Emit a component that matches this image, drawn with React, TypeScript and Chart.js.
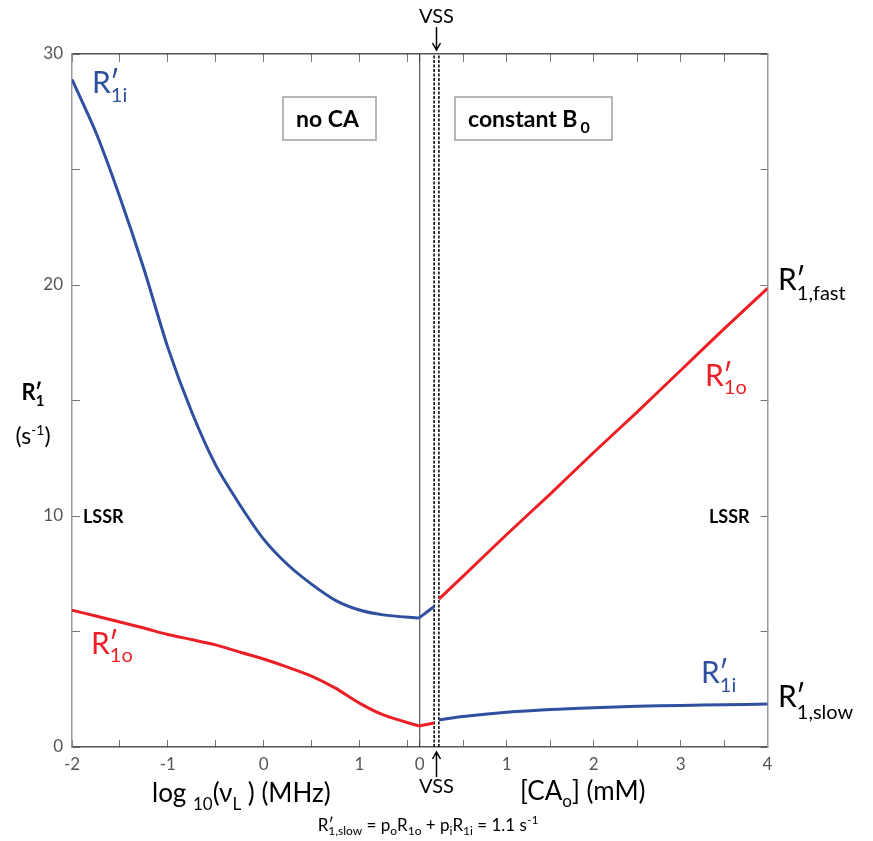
import { useEffect, useRef } from 'react';
import { Chart, registerables } from 'chart.js';

Chart.register(...registerables);

const FONT = 'Lato, "DejaVu Sans", sans-serif';
const BLUE = '#2f4f9f';
const RED = '#ec1f26';

// ---- data ----
// left panel: x = log10(nu_L) (MHz), no contrast agent
const logNu = [-2, -1.75, -1.5, -1.25, -1, -0.75, -0.5, -0.25, 0, 0.25, 0.5, 0.75, 1, 1.25, 1.62];
const r1iNoCA = [28.9, 26.6, 23.8, 20.7, 17.3, 14.5, 12.2, 10.5, 9.0, 7.9, 7.05, 6.35, 5.93, 5.72, 5.58];
const r1oNoCA = [5.92, 5.67, 5.41, 5.15, 4.87, 4.65, 4.42, 4.11, 3.81, 3.46, 3.07, 2.55, 1.9, 1.39, 0.91];
const vssLog = 1.78;
const r1iAtVSS = 6.08;
const r1oAtVSS = 1.04;
// right panel: x = [CAo] (mM), constant B0
const caO = [0.22, 0.5, 1, 1.5, 2, 2.5, 3, 3.5, 4];
const r1oCA = [6.4, 7.4, 9.2, 10.95, 12.75, 14.5, 16.3, 18.1, 19.85];
const r1iCA = [1.17, 1.32, 1.5, 1.62, 1.7, 1.76, 1.8, 1.83, 1.86];
const vssCA = 0.22;
const panelEdgeCA = 0;
// ticks
const logTicks = [-2, -1.5, -1, -0.5, 0, 0.5, 1, 1.5];
const logLabels = ['-2', '', '-1', '', '0', '', '1', ''];
const caTicks = [0, 0.5, 1, 1.5, 2, 2.5, 3, 3.5, 4];
const caLabels = ['0', '', '1', '', '2', '', '3', '', '4'];
const yTicks = [0, 5, 10, 15, 20, 25, 30];
const yLabels = ['0', '', '10', '', '20', '', '30'];

const pts = (xs: number[], ys: number[]) => xs.map((x, i) => ({ x, y: ys[i] }));

type Run = { t: string; size: number; bold?: boolean; dy?: number; dx?: number; adv?: boolean };

function rich(ctx: CanvasRenderingContext2D, x: number, y: number, runs: Run[], color: string, align: 'left' | 'center' | 'right' = 'left') {
  ctx.save();
  ctx.fillStyle = color;
  ctx.textBaseline = 'alphabetic';
  ctx.textAlign = 'left';
  const f = (r: Run) => `${r.bold ? 'bold ' : ''}${r.size}px ${FONT}`;
  const widths = runs.map((r) => {
    ctx.font = f(r);
    return ctx.measureText(r.t).width;
  });
  const total = runs.reduce((s, r, i) => s + (r.adv === false ? 0 : widths[i] + (r.dx || 0)), 0);
  let cx = align === 'center' ? x - total / 2 : align === 'right' ? x - total : x;
  runs.forEach((r, i) => {
    ctx.font = f(r);
    ctx.fillText(r.t, cx + (r.dx || 0), y + (r.dy || 0));
    if (r.adv !== false) cx += widths[i] + (r.dx || 0);
  });
  ctx.restore();
}

const rPrime = (size: number, sub: string, subSize: number, subDy: number, bold = false): Run[] => [
  { t: 'R', size, bold },
  { t: '\u2032', size, bold, adv: false, dx: -1 },
  { t: sub, size: subSize, bold, dy: subDy },
];

function arrow(ctx: CanvasRenderingContext2D, x: number, y0: number, y1: number) {
  const dir = y1 > y0 ? 1 : -1;
  ctx.save();
  ctx.strokeStyle = '#000';
  ctx.lineWidth = 1.5;
  ctx.beginPath();
  ctx.moveTo(x, y0);
  ctx.lineTo(x, y1);
  ctx.moveTo(x - 4, y1 - dir * 7);
  ctx.lineTo(x, y1);
  ctx.lineTo(x + 4, y1 - dir * 7);
  ctx.stroke();
  ctx.restore();
}

function box(ctx: CanvasRenderingContext2D, x0: number, y0: number, x1: number, y1: number) {
  ctx.save();
  ctx.strokeStyle = '#a0a0a0';
  ctx.lineWidth = 1.5;
  ctx.strokeRect(x0, y0, x1 - x0, y1 - y0);
  ctx.restore();
}

const annotations = {
  id: 'annotations',
  afterDraw(chart: any) {
    const { ctx, scales } = chart;
    const xl = scales.x;
    const xr = scales.xr;
    const yS = scales.y;
    const xm = (xl.getPixelForValue(vssLog) + xr.getPixelForValue(vssCA)) / 2;

    // VSS markers
    rich(ctx, xm, 23, [{ t: 'VSS', size: 20 }], '#000', 'center');
    arrow(ctx, xm, 27, 50);
    arrow(ctx, xm, 777, 752);
    rich(ctx, xm, 793, [{ t: 'VSS', size: 20 }], '#000', 'center');

    // boxes
    box(ctx, 283, 97, 376, 140);
    rich(ctx, 296, 127, [{ t: 'no CA', size: 23, bold: true }], '#000');
    box(ctx, 455, 97, 612, 140);
    rich(ctx, 468, 127, [{ t: 'constant B', size: 23, bold: true }, { t: '0', size: 16, bold: true, dy: 6, dx: 3 }], '#000');

    // LSSR
    const y10 = yS.getPixelForValue(10) + 7;
    rich(ctx, 83, y10, [{ t: 'LSSR', size: 18, bold: true }], '#000');
    rich(ctx, 709, y10, [{ t: 'LSSR', size: 18, bold: true }], '#000');

    // y title
    rich(ctx, 33, 400, rPrime(22, '1', 15, 6, true), '#000', 'center');
    rich(ctx, 33, 444, [{ t: '(s', size: 23 }, { t: '-1', size: 14, dy: -9 }, { t: ')', size: 23 }], '#000', 'center');

    // curve labels
    rich(ctx, 92, 93, rPrime(30, '1i', 20, 9), BLUE);
    rich(ctx, 91, 654, rPrime(30, '1o', 20, 8), RED);
    rich(ctx, 705, 386, rPrime(30, '1o', 20, 8), RED);
    rich(ctx, 701, 683, rPrime(30, '1i', 20, 9), BLUE);
    rich(ctx, 778, 290, rPrime(30, '1,fast', 20, 10), '#000');
    rich(ctx, 778, 707, rPrime(30, '1,slow', 20, 12), '#000');

    // axis titles
    rich(ctx, 152, 802, [
      { t: 'log ', size: 26 },
      { t: '10', size: 17, dy: 8 },
      { t: '(\u03bd', size: 26 },
      { t: 'L', size: 17, dy: 8 },
      { t: ' ) (MHz)', size: 26 },
    ], '#000');
    rich(ctx, 520, 800, [
      { t: '[CA', size: 26 },
      { t: 'o', size: 17, dy: 7 },
      { t: '] (mM)', size: 26 },
    ], '#000');

    // formula
    rich(ctx, 428, 831, [
      { t: 'R', size: 17 },
      { t: '\u2032', size: 17, adv: false },
      { t: '1,slow', size: 12, dy: 4 },
      { t: ' = p', size: 17 },
      { t: 'o', size: 12, dy: 4 },
      { t: 'R', size: 17 },
      { t: '1o', size: 12, dy: 4 },
      { t: ' + p', size: 17 },
      { t: 'i', size: 12, dy: 4 },
      { t: 'R', size: 17 },
      { t: '1i', size: 12, dy: 4 },
      { t: ' = 1.1 s', size: 17 },
      { t: '-1', size: 12, dy: -7 },
    ], '#000', 'center');
  },
};

const tickFont = { family: FONT, size: 17 };

export default function App() {
  const ref = useRef<HTMLCanvasElement>(null);
  useEffect(() => {
    if (!ref.current) return;
    Chart.defaults.font.family = FONT;
    const vLine = (xAxisID: string, x: number, color: string, dash: number[], width: number) => ({
      data: [{ x, y: 0 }, { x, y: 30 }],
      xAxisID,
      yAxisID: 'y',
      borderColor: color,
      borderWidth: width,
      borderDash: dash,
      pointRadius: 0,
      tension: 0,
      clip: false as any,
    });
    const chart = new Chart(ref.current, {
      type: 'line',
      data: {
        datasets: [
          { data: pts(logNu, r1iNoCA), xAxisID: 'x', yAxisID: 'y', borderColor: BLUE, borderWidth: 3, pointRadius: 0, tension: 0.25 },
          { data: [{ x: logNu[logNu.length - 1], y: r1iNoCA[r1iNoCA.length - 1] }, { x: vssLog, y: r1iAtVSS }], xAxisID: 'x', yAxisID: 'y', borderColor: BLUE, borderWidth: 3, pointRadius: 0, tension: 0 },
          { data: pts(logNu, r1oNoCA), xAxisID: 'x', yAxisID: 'y', borderColor: RED, borderWidth: 3, pointRadius: 0, tension: 0.25 },
          { data: [{ x: logNu[logNu.length - 1], y: r1oNoCA[r1oNoCA.length - 1] }, { x: vssLog, y: r1oAtVSS }], xAxisID: 'x', yAxisID: 'y', borderColor: RED, borderWidth: 3, pointRadius: 0, tension: 0 },
          { data: pts(caO, r1oCA), xAxisID: 'xr', yAxisID: 'y', borderColor: RED, borderWidth: 3, pointRadius: 0, tension: 0.2 },
          { data: pts(caO, r1iCA), xAxisID: 'xr', yAxisID: 'y', borderColor: BLUE, borderWidth: 3, pointRadius: 0, tension: 0.3 },
          vLine('xr', panelEdgeCA, '#333', [], 1),
          vLine('x', vssLog, '#000', [3, 1.5], 1.5),
          vLine('xr', vssCA, '#000', [3, 1.5], 1.5),
        ] as any,
      },
      options: {
        animation: false,
        responsive: true,
        maintainAspectRatio: false,
        events: [],
        layout: { padding: 0 },
        plugins: { legend: { display: false }, tooltip: { enabled: false } },
        scales: {
          x: {
            type: 'linear', position: 'bottom', min: -2, max: 5.26,
            afterBuildTicks: (s: any) => { s.ticks = logTicks.map((v) => ({ value: v })); },
            afterFit: (s: any) => { s.height = 94; },
            ticks: { callback: (_v: any, i: number) => logLabels[i], font: tickFont, color: '#555', padding: 14, maxRotation: 0, autoSkip: false },
            grid: { drawOnChartArea: false, tickLength: -7, color: '#777' },
            border: { color: '#555', width: 1.5 },
          },
          xr: {
            type: 'linear', position: { y: 0 }, min: -4, max: 4,
            afterBuildTicks: (s: any) => { s.ticks = caTicks.map((v) => ({ value: v })); },
            ticks: { callback: (_v: any, i: number) => caLabels[i], font: tickFont, color: '#555', padding: 14, maxRotation: 0, autoSkip: false },
            grid: { drawOnChartArea: false, tickLength: -7, color: '#777' },
            border: { display: false },
          },
          xt: {
            type: 'linear', position: 'top', min: -2, max: 5.26,
            afterBuildTicks: (s: any) => { s.ticks = logTicks.map((v) => ({ value: v })); },
            afterFit: (s: any) => { s.height = 54; },
            ticks: { display: false },
            grid: { drawOnChartArea: false, tickLength: -8, color: '#777' },
            border: { color: '#555', width: 1.5 },
          },
          xrt: {
            type: 'linear', position: { y: 30 }, min: -4, max: 4,
            afterBuildTicks: (s: any) => { s.ticks = caTicks.map((v) => ({ value: v })); },
            ticks: { display: false },
            grid: { drawOnChartArea: false, tickLength: 8, color: '#777' },
            border: { display: false },
          },
          y: {
            type: 'linear', position: 'left', min: 0, max: 30,
            afterBuildTicks: (s: any) => { s.ticks = yTicks.map((v) => ({ value: v })); },
            afterFit: (s: any) => { s.width = 72; },
            ticks: { callback: (_v: any, i: number) => yLabels[i], font: tickFont, color: '#555', padding: 17, autoSkip: false },
            grid: { drawOnChartArea: false, tickLength: -8, color: '#777' },
            border: { color: '#999', width: 1.5 },
          },
          y2: {
            type: 'linear', position: 'right', min: 0, max: 30,
            afterBuildTicks: (s: any) => { s.ticks = yTicks.map((v) => ({ value: v })); },
            afterFit: (s: any) => { s.width = 105.5; },
            ticks: { display: false },
            grid: { drawOnChartArea: false, tickLength: -7, color: '#777' },
            border: { color: '#999', width: 1.5 },
          },
        } as any,
      },
      plugins: [annotations],
    });
    return () => chart.destroy();
  }, []);
  return (
    <div style={{ position: 'absolute', left: 0, top: 0, width: 873, height: 841 }}>
      <canvas ref={ref} />
    </div>
  );
}
